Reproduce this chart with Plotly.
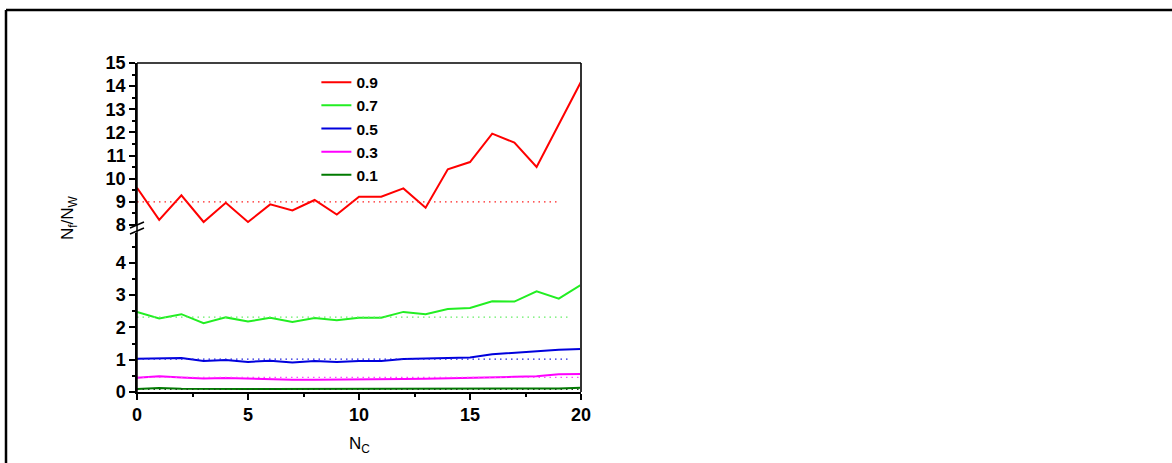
import plotly.graph_objects as go

# N_C values along the x axis
nc = list(range(21))

# N_f/N_W for each parameter value
labels = ["0.9", "0.7", "0.5", "0.3", "0.1"]
s09 = [9.61, 8.22, 9.28, 8.13, 8.96, 8.13, 8.89, 8.63, 9.08, 8.45, 9.22,
       9.22, 9.58, 8.75, 10.41, 10.72, 11.95, 11.56, 10.51, 12.35, 14.19]
s07 = [2.48, 2.28, 2.41, 2.13, 2.31, 2.18, 2.30, 2.17, 2.29, 2.22, 2.30,
       2.30, 2.48, 2.41, 2.57, 2.60, 2.81, 2.80, 3.12, 2.89, 3.32]
s05 = [1.03, 1.03, 1.05, 0.96, 0.99, 0.93, 0.97, 0.91, 0.96, 0.93, 0.96,
       0.96, 1.02, 1.04, 1.05, 1.07, 1.17, 1.22, 1.28, 1.31, 1.33]
s03 = [0.44, 0.49, 0.45, 0.42, 0.43, 0.41, 0.41, 0.38, 0.38, 0.38, 0.39,
       0.39, 0.40, 0.41, 0.42, 0.44, 0.46, 0.47, 0.49, 0.55, 0.56]
s01 = [0.09, 0.12, 0.10, 0.09, 0.09, 0.09, 0.09, 0.09, 0.09, 0.09, 0.09,
       0.09, 0.09, 0.09, 0.09, 0.09, 0.10, 0.10, 0.10, 0.11, 0.13]

# horizontal reference levels (dotted) and where they end on N_C
ref_levels = [9.0, 2.32, 1.02, 0.45, 0.08]
ref_end = [19, 19.5, 19.5, 20, 20]

colors = ["#FF0000", "#22EE22", "#0000DD", "#FF00FF", "#007A00"]
ref_colors = ["#FF2020", "#66EE66", "#2222DD", "#FF44FF", "#224422"]
series = [s09, s07, s05, s03, s01]
upper = [True, False, False, False, False]

fig = go.Figure()

for lab, ys, col, up in zip(labels, series, colors, upper):
    fig.add_trace(go.Scatter(
        x=nc, y=ys, mode="lines", name=lab,
        line=dict(color=col, width=2),
        xaxis="x", yaxis="y2" if up else "y",
    ))

for lvl, xe, col, up in zip(ref_levels, ref_end, ref_colors, upper):
    fig.add_trace(go.Scatter(
        x=[0, xe], y=[lvl, lvl], mode="lines", showlegend=False,
        line=dict(color=col, width=1.3, dash="1.5px,4px"),
        xaxis="x", yaxis="y2" if up else "y",
    ))

FONT = "Liberation Sans, Arial, sans-serif"
tickfont = dict(family=FONT, size=18, color="black", weight="bold")

axis_common = dict(
    showgrid=False, zeroline=False, showline=True, linecolor="black",
    linewidth=1.5, ticks="outside", ticklen=6, tickwidth=1.5,
    tickcolor="black", tickfont=tickfont,
)

fig.update_layout(
    width=1172, height=463,
    margin=dict(l=137, r=591, t=63, b=71),
    paper_bgcolor="white", plot_bgcolor="white",
    xaxis=dict(range=[0, 20], tickvals=[0, 5, 10, 15, 20], anchor="y",
               minor=dict(tickvals=[2.5, 7.5, 12.5, 17.5], ticks="outside",
                          ticklen=3, tickcolor="black", tickwidth=1.5),
               **axis_common),
    yaxis=dict(range=[0, 4.92], domain=[0, 0.483], anchor="x",
               tickvals=[0, 1, 2, 3, 4],
               minor=dict(tickvals=[0.5, 1.5, 2.5, 3.5, 4.5], ticks="outside",
                          ticklen=3, tickcolor="black", tickwidth=1.5),
               **axis_common),
    yaxis2=dict(range=[8, 15], domain=[0.5076, 1], anchor="x",
                tickvals=list(range(8, 16)),
                minor=dict(tickvals=[8.5 + i for i in range(7)], ticks="outside",
                           ticklen=3, tickcolor="black", tickwidth=1.5),
                **axis_common),
    legend=dict(x=0.404, y=0.992, xanchor="left", yanchor="top",
                bgcolor="rgba(0,0,0,0)", tracegroupgap=0,
                font=dict(family=FONT, size=15.5, color="black", weight="bold")),
    showlegend=True,
)

# frame lines: left and right axis lines across the break, top edge
line_k = dict(color="black", width=1.5)
fig.add_shape(type="line", xref="paper", yref="paper", x0=0, x1=0, y0=0, y1=1, line=line_k)
fig.add_shape(type="line", xref="paper", yref="paper", x0=1, x1=1, y0=0, y1=1,
              line=dict(color="#333333", width=2))
fig.add_shape(type="line", xref="paper", yref="paper", x0=0, x1=1, y0=1, y1=1, line=line_k)

# axis break marks on the left axis
W, H = 444.0, 329.0
def px(xp, yp):
    return (xp - 137) / W, (392 - yp) / H
for dy in (0, 6):
    xa, ya = px(130, 228 + dy)
    xb, yb = px(144, 222 + dy)
    fig.add_shape(type="line", xref="paper", yref="paper",
                  x0=xa, y0=ya, x1=xb, y1=yb, line=dict(color="black", width=1.5))

# outer page frame (left and top edges)
fx, fy = px(6, 10)
_, fb = px(6, 470)
rx, _ = px(1175, 10)
fig.add_shape(type="line", xref="paper", yref="paper", x0=fx, x1=fx, y0=fb, y1=fy,
              line=dict(color="black", width=2.5))
fig.add_shape(type="line", xref="paper", yref="paper", x0=fx, x1=rx, y0=fy, y1=fy,
              line=dict(color="black", width=2.5))

# axis titles
tx, ty = px(359, 445)
fig.add_annotation(xref="paper", yref="paper", x=tx, y=ty, showarrow=False,
                   xanchor="center", yanchor="middle",
                   text="N<sub>C</sub>", font=dict(family=FONT, size=17, color="black"))
ax, ay = px(69, 218)
fig.add_annotation(xref="paper", yref="paper", x=ax, y=ay, showarrow=False,
                   xanchor="center", yanchor="middle",
                   textangle=-90, text="N<sub>f</sub>/N<sub>W</sub>",
                   font=dict(family=FONT, size=17, color="black"))

fig.write_html("out.html")
